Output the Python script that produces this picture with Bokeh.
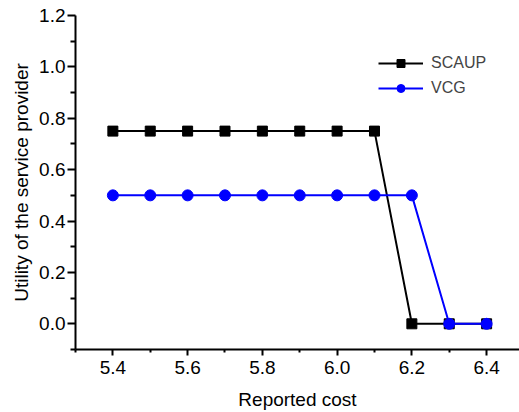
from bokeh.plotting import figure
from bokeh.models import FixedTicker, Range1d, Legend, LegendItem, NumeralTickFormatter
from bokeh.embed import file_html
from bokeh.resources import INLINE

reported_cost = [5.4, 5.5, 5.6, 5.7, 5.8, 5.9, 6.0, 6.1, 6.2, 6.3, 6.4]
scaup = [0.75, 0.75, 0.75, 0.75, 0.75, 0.75, 0.75, 0.75, 0.0, 0.0, 0.0]
vcg = [0.5, 0.5, 0.5, 0.5, 0.5, 0.5, 0.5, 0.5, 0.5, 0.0, 0.0]

x_major = [5.4, 5.6, 5.8, 6.0, 6.2, 6.4]
x_minor = [5.3, 5.5, 5.7, 5.9, 6.1, 6.3, 6.5]
y_major = [0.0, 0.2, 0.4, 0.6, 0.8, 1.0, 1.2]
y_minor = [-0.1, 0.1, 0.3, 0.5, 0.7, 0.9, 1.1]

FONT = "Liberation Sans"

p = figure(width=519, height=412, output_backend="svg", toolbar_location=None,
           x_range=Range1d(5.3, 6.488), y_range=Range1d(-0.1, 1.2),
           min_border_left=75, min_border_right=0, min_border_top=15, min_border_bottom=61)
p.outline_line_color = None
p.xgrid.visible = False
p.ygrid.visible = False
p.background_fill_color = "white"

l1 = p.line(reported_cost, scaup, line_color="black", line_width=2)
s1 = p.scatter(reported_cost, scaup, marker="square", size=10, fill_color="black", line_color="black")
l2 = p.line(reported_cost, vcg, line_color="#0000FF", line_width=2)
s2 = p.scatter(reported_cost, vcg, marker="circle", size=11, fill_color="#0000FF", line_color="#0000FF")

for ax, maj, mnr in ((p.xaxis[0], x_major, x_minor), (p.yaxis[0], y_major, y_minor)):
    ax.ticker = FixedTicker(ticks=maj, minor_ticks=mnr)
    ax.formatter = NumeralTickFormatter(format="0.0")
    ax.axis_line_width = 2
    ax.axis_line_color = "black"
    ax.major_tick_line_color = "black"
    ax.minor_tick_line_color = "black"
    ax.major_tick_line_width = 2
    ax.minor_tick_line_width = 2
    ax.major_tick_in = 0
    ax.minor_tick_in = 0
    ax.major_label_text_font = FONT
    ax.major_label_text_font_size = "19px"
    ax.major_label_text_color = "black"
    ax.axis_label_text_font = FONT
    ax.axis_label_text_font_size = "19px"
    ax.axis_label_text_font_style = "normal"
    ax.axis_label_text_color = "black"

p.xaxis[0].major_tick_out = 6
p.xaxis[0].minor_tick_out = 3
p.yaxis[0].major_tick_out = 8
p.yaxis[0].minor_tick_out = 5
p.xaxis[0].major_label_standoff = 5
p.yaxis[0].major_label_standoff = 2
p.xaxis[0].axis_label = "Reported cost"
p.yaxis[0].axis_label = "Utility of the service provider"
p.xaxis[0].axis_label_standoff = 12
p.yaxis[0].axis_label_standoff = 4

legend = Legend(items=[LegendItem(label="SCAUP", renderers=[l1, s1]),
                       LegendItem(label="VCG", renderers=[l2, s2])],
                location=(303, 251))
legend.border_line_color = None
legend.background_fill_alpha = 0
legend.padding = 0
legend.margin = 0
legend.glyph_width = 45
legend.glyph_height = 20
legend.spacing = 5
legend.label_standoff = 8
legend.label_text_font = FONT
legend.label_text_font_size = "16px"
p.add_layout(legend)

open("out.html", "w").write(file_html(p, INLINE))
